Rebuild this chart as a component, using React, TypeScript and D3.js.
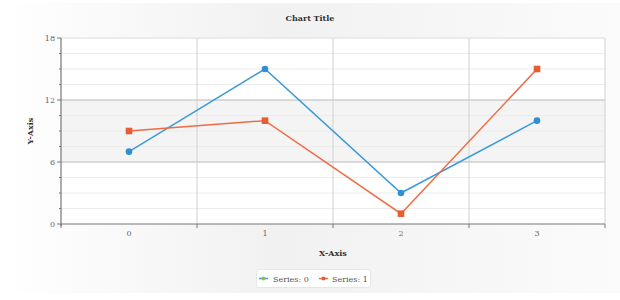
import React from "react";
import * as d3 from "d3";

const categories = ["0", "1", "2", "3"];
const series0 = [7, 15, 3, 10];
const series1 = [9, 10, 1, 15];
const seriesNames = ["Series: 0", "Series: 1"];
const majorTicks = [0, 6, 12, 18];
const minorTicks = d3.range(0, 18.01, 1.5);

const W = 620, H = 300;
const L = 61, R = 605, T = 38, B = 224;
const FONT = "'DejaVu Serif', serif";
const BLUE = "#3b9ad9";
const ORANGE = "#ef6b44";

export default function App() {
  React.useEffect(() => {
    document.body.style.margin = "0";
  }, []);
  const x = d3.scaleBand<string>().domain(categories).range([L, R]);
  const y = d3.scaleLinear().domain([0, 18]).range([B, T]);
  const cx = (c: string) => (x(c) as number) + x.bandwidth() / 2;
  const line = d3.line<number>().x((_, i) => cx(categories[i])).y((d) => y(d));
  const bounds = [...categories.map((c) => x(c) as number), R];

  return (
    <svg width={W} height={H} style={{ display: "block" }}>
      <defs>
        <linearGradient id="bg" x1="0" x2="1" y1="0" y2="0">
          <stop offset="0" stopColor="#ffffff" />
          <stop offset="0.45" stopColor="#f1f1f1" />
          <stop offset="1" stopColor="#fbfbfb" />
        </linearGradient>
      </defs>
      <rect x={0} y={3} width={W} height={290} fill="url(#bg)" />
      <text x={310} y={21} textAnchor="middle" fontFamily={FONT} fontWeight="bold" fontSize={8} fill="#333">Chart Title</text>
      <rect x={L} y={T} width={R - L} height={B - T} fill="#fff" />
      <rect x={L} y={y(12)} width={R - L} height={y(6) - y(12)} fill="#f4f4f4" />
      {minorTicks.filter((v) => !majorTicks.includes(v)).map((v) => (
        <line key={"mg" + v} x1={L} x2={R} y1={y(v)} y2={y(v)} stroke="#ececec" strokeWidth={1} />
      ))}
      {majorTicks.filter((v) => v !== 0).map((v) => (
        <line key={"Mg" + v} x1={L} x2={R} y1={y(v)} y2={y(v)} stroke={v === 18 ? "#dcdcdc" : "#b9b9b9"} strokeWidth={1} />
      ))}
      {bounds.slice(1).map((b, i) => (
        <line key={"vg" + i} x1={b} x2={b} y1={T} y2={B} stroke="#d0d0d0" strokeWidth={1} />
      ))}
      {/* y axis */}
      <line x1={L} x2={L} y1={T} y2={B + 2} stroke="#777" strokeWidth={1.2} />
      {majorTicks.map((v) => (
        <g key={"yt" + v}>
          <line x1={L - 4} x2={L} y1={y(v)} y2={y(v)} stroke="#777" />
          <text x={L - 6} y={y(v) + 3} textAnchor="end" fontFamily={FONT} fontSize={8} fill="#666">{v}</text>
        </g>
      ))}
      {minorTicks.filter((v) => !majorTicks.includes(v)).map((v) => (
        <line key={"ymt" + v} x1={L - 2} x2={L} y1={y(v)} y2={y(v)} stroke="#777" />
      ))}
      {/* x axis */}
      <line x1={L} x2={R} y1={B} y2={B} stroke="#777" strokeWidth={1.2} />
      {bounds.map((b, i) => (
        <line key={"xt" + i} x1={b} x2={b} y1={B} y2={B + 4} stroke="#777" />
      ))}
      {categories.map((c) => (
        <text key={"xl" + c} x={cx(c)} y={B + 12} textAnchor="middle" fontFamily={FONT} fontSize={8} fill="#666">{c}</text>
      ))}
      <text x={(L + R) / 2} y={256} textAnchor="middle" fontFamily={FONT} fontWeight="bold" fontSize={8} fill="#333">X-Axis</text>
      <text transform={`translate(33,${(T + B) / 2}) rotate(-90)`} textAnchor="middle" fontFamily={FONT} fontWeight="bold" fontSize={8} fill="#333">Y-Axis</text>
      {/* series */}
      <path d={line(series0) || ""} fill="none" stroke={BLUE} strokeWidth={1.5} />
      <path d={line(series1) || ""} fill="none" stroke={ORANGE} strokeWidth={1.5} />
      {series0.map((v, i) => (
        <circle key={"p0" + i} cx={cx(categories[i])} cy={y(v)} r={3.3} fill="#2f8fd3" />
      ))}
      {series1.map((v, i) => (
        <rect key={"p1" + i} x={cx(categories[i]) - 3.3} y={y(v) - 3.3} width={6.6} height={6.6} fill="#e85c35" />
      ))}
      {/* legend */}
      <rect x={256.5} y={269.5} width={114} height={18} rx={3} fill="#fff" stroke="#e6e6e6" />
      <line x1={259} x2={268} y1={278.5} y2={278.5} stroke={BLUE} strokeWidth={1.5} />
      <circle cx={263.5} cy={278.5} r={2} fill="#8cc152" />
      <text x={273} y={281.5} fontFamily={FONT} fontSize={8} fill="#555">{seriesNames[0]}</text>
      <line x1={319} x2={328} y1={278.5} y2={278.5} stroke={ORANGE} strokeWidth={1.5} />
      <circle cx={323.5} cy={278.5} r={2} fill="#e85c35" />
      <text x={332} y={281.5} fontFamily={FONT} fontSize={8} fill="#555">{seriesNames[1]}</text>
    </svg>
  );
}
